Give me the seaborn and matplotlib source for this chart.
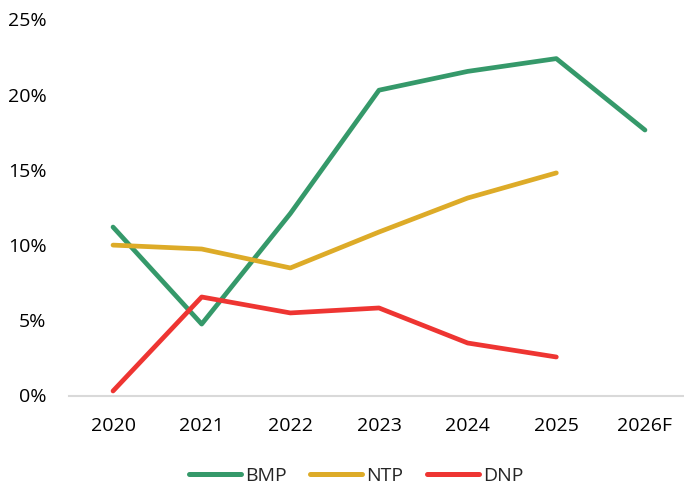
import matplotlib
matplotlib.use("Agg")
import matplotlib.pyplot as plt
import seaborn as sns
import numpy as np
import pandas as pd

years = ["2020", "2021", "2022", "2023", "2024", "2025", "2026F"]
bmp = [11.2, 4.75, 12.1, 20.3, 21.55, 22.4, 17.65]
ntp = [10.0, 9.74, 8.48, 10.87, 13.13, 14.8, np.nan]
dnp = [0.3, 6.55, 5.49, 5.82, 3.49, 2.56, np.nan]
series_names = ["BMP", "NTP", "DNP"]
colors = ["#35996A", "#DDAB28", "#EE3532"]
y_ticks = [0, 5, 10, 15, 20, 25]

sns.set_theme(style="white")
plt.rcParams["font.family"] = ["Open Sans", "DejaVu Sans"]

rows = []
for name, vals in zip(series_names, [bmp, ntp, dnp]):
    for yr, v in zip(years, vals):
        rows.append({"year": yr, "value": v, "series": name})
df = pd.DataFrame(rows).dropna()

fig = plt.figure(figsize=(6.84, 4.87), dpi=100)
ax = fig.add_axes([68.7 / 684, 1 - 395.5 / 487, (689.3 - 68.7) / 684, (395.5 - 19.5) / 487])

sns.lineplot(data=df, x="year", y="value", hue="series", hue_order=series_names,
             palette=colors, linewidth=3.4, sort=False, ax=ax, legend=True)
for ln in ax.get_lines():
    ln.set_solid_capstyle("round")
    ln.set_solid_joinstyle("round")
    ln.set_clip_on(False)

ax.set_xlim(-0.5, 6.5)
ax.set_ylim(0, 25)
ax.set_yticks(y_ticks)
ax.set_yticklabels([f"{t}%" for t in y_ticks])
ax.set_xlabel("")
ax.set_ylabel("")
for s in ["top", "right", "left"]:
    ax.spines[s].set_visible(False)
ax.spines["bottom"].set_color("#D9D9D9")
ax.spines["bottom"].set_linewidth(1.5)
ax.spines["bottom"].set_zorder(0)
ax.tick_params(axis="y", length=0, pad=16, labelsize=14, colors="black")
ax.tick_params(axis="x", length=0, pad=15.5, labelsize=14, colors="black")
ax.grid(False)

handles, labels = ax.get_legend_handles_labels()
ax.get_legend().remove()
leg = fig.legend(handles, labels, loc="center", bbox_to_anchor=(356 / 684, 1 - 476 / 487),
                 ncol=3, frameon=False, fontsize=14, handlelength=2.7,
                 handletextpad=0.2, columnspacing=1.2, borderpad=0)
for h in leg.get_lines():
    h.set_linewidth(3.6)
    h.set_solid_capstyle("round")

fig.savefig("out.png", dpi=100)
